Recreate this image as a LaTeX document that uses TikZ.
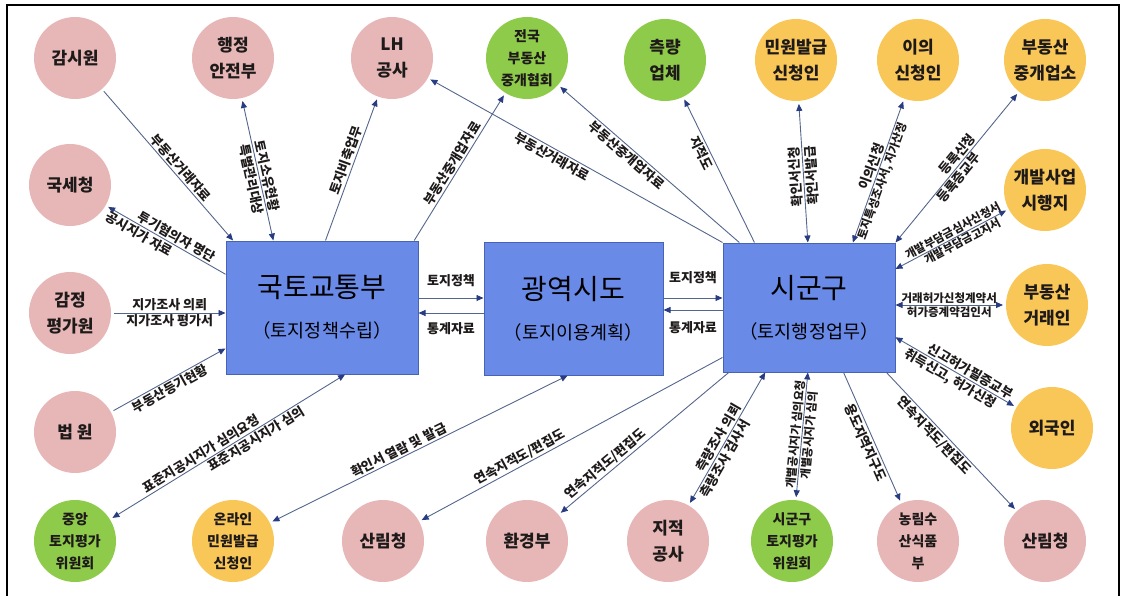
\documentclass[tikz,border=0pt]{standalone}
\usepackage{fontspec}
\usepackage{tikz}
\usepackage{xcolor}
\usetikzlibrary{arrows.meta}
\newfontfamily\kr{Noto Sans CJK KR}
\definecolor{pinkfill}{RGB}{231,182,182}
\definecolor{greenfill}{RGB}{143,203,74}
\definecolor{yellowfill}{RGB}{249,198,88}
\definecolor{boxfill}{RGB}{106,138,232}
\definecolor{boxline}{RGB}{72,98,180}
\definecolor{linkcol}{RGB}{84,102,140}
\definecolor{tipcol}{RGB}{40,60,130}
\definecolor{inktext}{RGB}{30,26,26}

\begin{document}
\begin{tikzpicture}[x=1pt, y=-1pt,
    agency/.style={circle, minimum size=82pt, inner sep=0pt, outer sep=3pt, align=center, text=inktext, font=\kr\bfseries\fontsize{17}{26}\selectfont},
    pinknode/.style={agency, fill=pinkfill},
    greennode/.style={agency, fill=greenfill},
    yellownode/.style={agency, fill=yellowfill},
    threeline/.style={font=\kr\bfseries\fontsize{14}{22}\selectfont},
    deptbox/.style={rectangle, fill=boxfill, draw=boxline, line width=1pt, inner sep=0pt, align=center, font=\kr\fontsize{18.5}{40}\selectfont},
    link/.style={draw=linkcol, line width=0.9pt, >={Triangle[length=7pt,width=6pt,color=tipcol]}},
    lbl/.style={font=\kr\bfseries\fontsize{13}{14}\selectfont, text=inktext, sloped, allow upside down, inner sep=1.5pt},
    smalllbl/.style={lbl, font=\kr\bfseries\fontsize{11.5}{12}\selectfont, inner sep=1pt}
  ]
        \useasboundingbox (0,0) rectangle (1124,596);
        \draw[line width=2pt] (7,5) rectangle (1119,602);

        % Departments
        \node[deptbox, minimum width=192pt, minimum height=133pt] (mlt) at (322,307.5) {{\fontsize{28}{34}\selectfont 국토교통부}\\（토지정책수립）};
        \node[deptbox, minimum width=179pt, minimum height=133pt] (mcp) at (573.5,308.5) {{\fontsize{28}{34}\selectfont 광역시도}\\（토지이용계획）};
        \node[deptbox, minimum width=172pt, minimum height=129pt] (sgg) at (809,307.5) {{\fontsize{28}{34}\selectfont 시군구}\\（토지행정업무）};

        % Top row
        \node[pinknode] (gamsa) at (75,58) {감시원};
        \node[pinknode] (hangan) at (233,58) {행정\\안전부};
        \node[pinknode] (lh) at (392,58) {LH\\공사};
        \node[greennode, threeline] (hyeop) at (527,58) {전국\\부동산\\중개협회};
        \node[greennode] (cheuk) at (665,60) {측량\\업체};
        \node[yellownode] (minwon) at (796,60) {민원발급\\신청인};
        \node[yellownode] (iui) at (918,60) {이의\\신청인};
        \node[yellownode] (jungae) at (1045,60) {부동산\\중개업소};

        % Left column
        \node[pinknode] (gukse) at (70,185) {국세청};
        \node[pinknode] (gamjeong) at (70,313) {감정\\평가원};
        \node[pinknode] (beopwon) at (75,432) {법 원};

        % Bottom row
        \node[greennode, threeline] (jungang) at (75,541) {중앙\\토지평가\\위원회};
        \node[yellownode, threeline] (online) at (233,541) {온라인\\민원발급\\신청인};
        \node[pinknode] (sanrimw) at (383,541) {산림청};
        \node[pinknode] (hwangyeong) at (527,541) {환경부};
        \node[pinknode] (jijeok) at (668,541) {지적\\공사};
        \node[greennode, threeline] (sggpy) at (792,541) {시군구\\토지평가\\위원회};
        \node[pinknode, threeline] (nongrim) at (918,541) {농림수\\산식품\\부};
        \node[pinknode] (sanrime) at (1045,541) {산림청};

        % Right column
        \node[yellownode] (gaebal) at (1045,190) {개발사업\\시행지};
        \node[yellownode] (georae) at (1047,305) {부동산\\거래인};
        \node[yellownode] (oeguk) at (1052,428) {외국인};

        % Links of 국토교통부
        \draw[link,->] (gamsa) -- (mlt.143) node[lbl, pos=0.55, above] {부동산거래자료};
        \draw[link,<->] (hangan) -- (mlt.126) node[lbl, pos=0.55, below] {특별관리대상} node[lbl, pos=0.55, above] {토지소유현황};
        \draw[link,->] (mlt.87) -- (lh) node[lbl, pos=0.55, above] {토지비축업무};
        \draw[link,->] (mlt.36) -- (hyeop) node[lbl, pos=0.5, above] {부동산중개업자료};
        \draw[link,<-] (gukse) -- (mlt.161) node[lbl, pos=0.55, above] {투기혐의자 명단} node[lbl, pos=0.3, below] {공시지가 자료};
        \draw[link,->] (gamjeong) -- (gamjeong -| mlt.west) node[lbl, midway, above] {지가조사 의뢰} node[lbl, midway, below] {지가조사 평가서};
        \draw[link,->] (beopwon) -- (mlt.203) node[lbl, pos=0.47, below] {부동산등기현황};
        \draw[link,<->] (jungang) -- (mlt.289) node[lbl, pos=0.4, above] {표준지공시지가 심의요청} node[lbl, pos=0.6, below] {표준지공시지가 심의};

        % Links of 광역시도
        \draw[link,->] (mlt.east |- 0,298) -- (mcp.west |- 0,298) node[lbl, midway, above=9pt] {토지정책};
        \draw[link,<-] (mlt.east |- 0,313) -- (mcp.west |- 0,313) node[lbl, midway, below=8pt] {통계자료};
        \draw[link,->] (mcp.east |- 0,298) -- (sgg.west |- 0,298) node[lbl, midway, above=12pt] {토지정책};
        \draw[link,<-] (mcp.east |- 0,310) -- (sgg.west |- 0,310) node[lbl, midway, below=10pt] {통계자료};
        \draw[link,<->] (online) -- (mcp.265) node[lbl, pos=0.44, above] {확인서 열람 및 발급};

        % Links of 시군구
        \draw[link,<-] (lh) -- (sgg.north west) node[lbl, pos=0.43, below] {부동산거래자료};
        \draw[link,<-] (hyeop) -- (sgg.137) node[lbl, pos=0.4, below] {부동산중개업자료};
        \draw[link,<-] (cheuk) -- (sgg.130) node[lbl, pos=0.35, below] {지적도};
        \draw[link,<->] (sgg.91) -- (minwon) node[lbl, pos=0.48, above] {확인서신청} node[lbl, pos=0.48, below] {확인서발급};
        \draw[link,<->] (sgg.56) -- (iui) node[lbl, pos=0.52, above] {이의신청} node[smalllbl, pos=0.45, below] {토지특성조사서, 지가산정};
        \draw[link,<->] (sgg.north east) -- (jungae) node[lbl, pos=0.56, above] {등록신청} node[lbl, pos=0.47, below] {등록증교부};
        \draw[link,<->] (sgg.24) -- (gaebal) node[smalllbl, pos=0.55, above] {개발부담금심사신청서} node[smalllbl, pos=0.58, below] {개발부담금고지서};
        \draw[link,<->] (sgg.east |- georae) -- (georae) node[smalllbl, midway, above] {거래허가신청계약서} node[smalllbl, midway, below] {허가증계약검인서};
        \draw[link,<->] (sgg.341) -- (oeguk) node[lbl, pos=0.6, above] {신고허가필증교부} node[lbl, pos=0.5, below] {취득신고, 허가신청};
        \draw[link,->] (sgg.320) -- (sanrime) node[lbl, pos=0.42, below] {연속지적도/편집도};
        \draw[link,->] (sgg.298) -- (nongrim) node[lbl, pos=0.52, below] {용도지역지구도};
        \draw[link,<->] (sggpy) -- (sgg.269) node[smalllbl, pos=0.5, above] {개별공시지가 심의요청} node[smalllbl, pos=0.5, below] {개별공시지가 심의};
        \draw[link,<->] (jijeok) -- (sgg.236) node[lbl, pos=0.47, above] {측량조사 의뢰} node[lbl, pos=0.37, below] {측량조사 검사서};
        \draw[link,<-] (hwangyeong) -- (sgg.219) node[lbl, pos=0.3, above] {연속지적도/편집도};
        \draw[link,<-] (sanrimw) -- (sgg.210) node[lbl, pos=0.34, above] {연속지적도/편집도};
    \end{tikzpicture}
\end{document}
